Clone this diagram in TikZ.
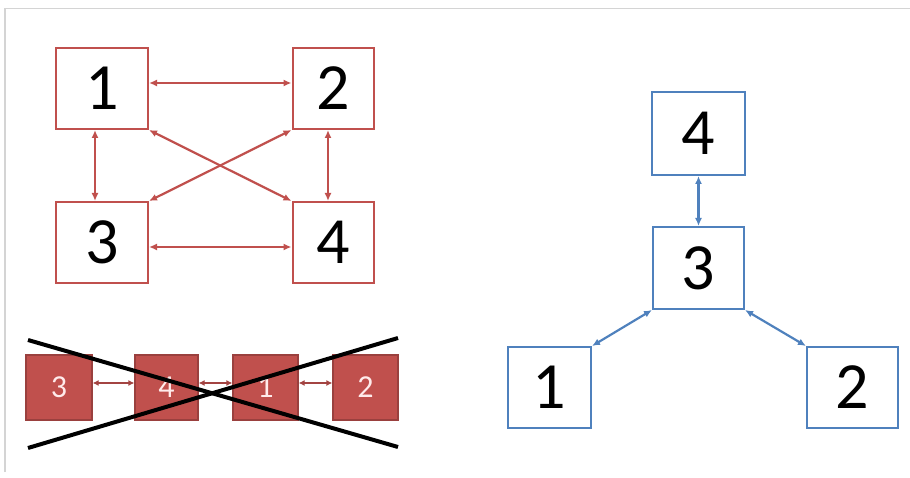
\documentclass[tikz,border=0pt]{standalone}
\usepackage{fontspec}
\setmainfont{Carlito}
\usepackage{xcolor}
\usetikzlibrary{arrows.meta}

\definecolor{boxred}{RGB}{192,80,77}
\definecolor{boxblue}{RGB}{79,129,189}
\definecolor{framegray}{RGB}{212,212,212}

\begin{document}
\begin{tikzpicture}[
  x=1pt, y=1pt,
  rednode/.style={rectangle, draw=boxred, line width=2pt, fill=white, inner sep=0pt,
    minimum height=81pt, font=\fontsize{66}{66}\selectfont},
  filledbox/.style={rectangle, draw=boxred!80!black, fill=boxred, line width=1.2pt, inner sep=0pt,
    minimum height=65pt, text=red!8!white, font=\fontsize{32}{32}\selectfont},
  bluenode/.style={rectangle, draw=boxblue, line width=2pt, fill=white, inner sep=0pt,
    minimum height=82pt, font=\fontsize{66}{66}\selectfont},
  redlink/.style={{Latex[length=8pt,width=7pt]}-{Latex[length=8pt,width=7pt]}, boxred, line width=2.2pt},
  smalllink/.style={{Latex[length=6pt,width=6pt]}-{Latex[length=6pt,width=6pt]}, boxred!85!black, line width=2pt},
  bluelink/.style={{Latex[length=8pt,width=7pt]}-{Latex[length=8pt,width=7pt]}, boxblue, line width=2.2pt},
  crossline/.style={black, line width=4pt},
]
\useasboundingbox (0,0) rectangle (910,477);

%% ── Frame ────────────────────────────────────────────────────────────────────
\draw[framegray, line width=1.2pt] (5,5) -- (5,468.5) -- (910,468.5);

%% ── Fully connected graph ────────────────────────────────────────────────────
\node[rednode, minimum width=92pt] (b1) at (102,388.5) {1};
\node[rednode, minimum width=81pt] (b2) at (333,388.5) {2};
\node[rednode, minimum width=92pt] (b3) at (102,234.5) {3};
\node[rednode, minimum width=81pt] (b4) at (333,234.5) {4};

\draw[redlink] ([yshift=5.5pt]b1.east) -- ([yshift=5.5pt]b2.west);
\draw[redlink] ([yshift=-4.5pt]b3.east) -- ([yshift=-4.5pt]b4.west);
\draw[redlink] ([xshift=-7pt]b1.south) -- ([xshift=-7pt]b3.north);
\draw[redlink] ([xshift=-5pt]b2.south) -- ([xshift=-5pt]b4.north);
\draw[redlink] (b1.south east) -- (b4.north west);
\draw[redlink] (b2.south west) -- (b3.north east);

%% ── Chain (crossed out) ──────────────────────────────────────────────────────
\node[filledbox, minimum width=66pt] (f3) at (59,89.5) {3};
\node[filledbox, minimum width=63pt] (f4) at (166.5,89.5) {4};
\node[filledbox, minimum width=65pt] (f1) at (265.5,89.5) {1};
\node[filledbox, minimum width=65pt] (f2) at (365.5,89.5) {2};

\draw[smalllink] ([yshift=4.5pt]f3.east) -- ([yshift=4.5pt]f4.west);
\draw[smalllink] ([yshift=4.5pt]f4.east) -- ([yshift=4.5pt]f1.west);
\draw[smalllink] ([yshift=4.5pt]f1.east) -- ([yshift=4.5pt]f2.west);

\coordinate (ca) at (28,137);
\coordinate (cb) at (398,30);
\coordinate (cc) at (28,29);
\coordinate (cd) at (398,139);
\draw[crossline] (ca) -- (cb);
\draw[crossline] (cc) -- (cd);

%% ── Tree ─────────────────────────────────────────────────────────────────────
\node[bluenode, minimum width=93pt, minimum height=83pt] (t4) at (698.5,343.5) {4};
\node[bluenode, minimum width=91pt] (t3) at (698.5,209) {3};
\node[bluenode, minimum width=83pt, minimum height=81pt] (t1) at (549.5,89.5) {1};
\node[bluenode, minimum width=91pt, minimum height=81pt] (t2) at (852.5,89.5) {2};

\draw[bluelink] (t4.south) -- (t3.north);
\draw[bluelink] (t1.north east) -- (t3.south west);
\draw[bluelink] (t3.south east) -- (t2.north west);

\end{tikzpicture}
\end{document}
